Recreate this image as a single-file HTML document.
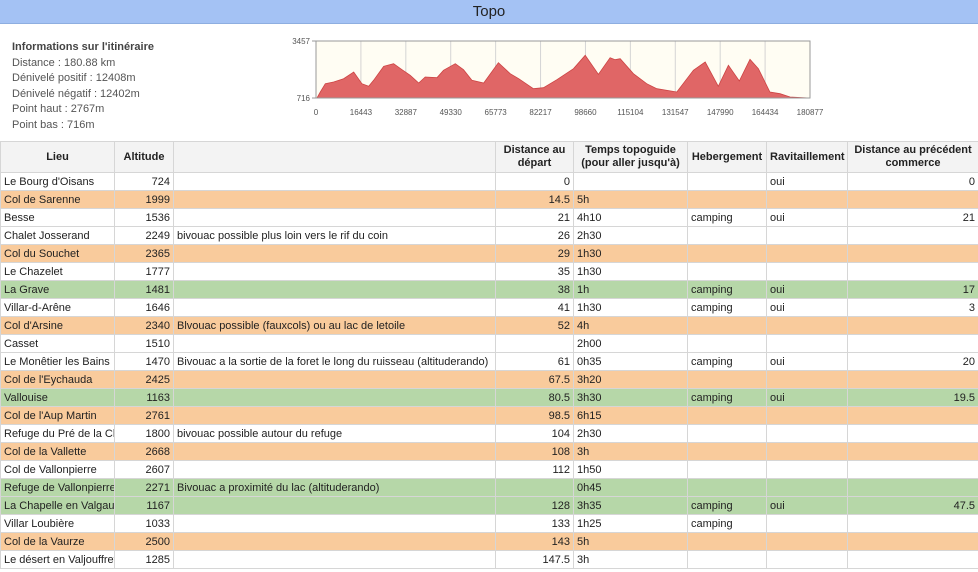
<!DOCTYPE html>
<html><head><meta charset="utf-8"><style>
*{margin:0;padding:0;box-sizing:border-box}
body{width:978px;height:572px;overflow:hidden;background:#fff;font-family:"Liberation Sans",Arial,sans-serif;position:relative}
#title{position:absolute;left:0;top:0;width:978px;height:24px;background:#a4c2f4;border-bottom:1px solid #8eaee0;text-align:center;font-size:15px;line-height:24px;color:#222}
#info{position:absolute;left:12px;top:40px;font-size:11px;color:#555;line-height:15.6px}
#info b{color:#444}
#chart{position:absolute;left:0;top:24px}
table{position:absolute;left:0;top:141px;border-collapse:collapse;table-layout:fixed;width:978px;font-size:11px;color:#222}
td,th{border:1px solid #d6d6d6;height:18px;padding:0 3px;white-space:nowrap;overflow:hidden}
th{height:31px;background:#f3f3f3;font-weight:bold;text-align:center;line-height:13px;white-space:normal}
.r{text-align:right}
.o td{background:#f9cb9c}
.g td{background:#b6d7a8}
</style></head><body>
<div id="title">Topo</div>
<div id="info">
<b>Informations sur l'itinéraire</b><br>
Distance : 180.88 km<br>Dénivelé positif : 12408m<br>Dénivelé négatif : 12402m<br>Point haut : 2767m<br>Point bas : 716m
</div>
<svg id="chart" width="978" height="117"></svg>
<table>
<colgroup><col style="width:114px"><col style="width:59px"><col style="width:322px"><col style="width:78px"><col style="width:114px"><col style="width:79px"><col style="width:81px"><col style="width:131px"></colgroup>
<thead><tr><th>Lieu</th><th>Altitude</th><th></th><th>Distance au départ</th><th>Temps topoguide (pour aller jusqu'à)</th><th>Hebergement</th><th>Ravitaillement</th><th>Distance au précédent commerce</th></tr></thead>
<tbody>
<tr><td>Le Bourg d'Oisans</td><td class="r">724</td><td></td><td class="r">0</td><td></td><td></td><td>oui</td><td class="r">0</td></tr>
<tr class="o"><td>Col de Sarenne</td><td class="r">1999</td><td></td><td class="r">14.5</td><td>5h</td><td></td><td></td><td></td></tr>
<tr><td>Besse</td><td class="r">1536</td><td></td><td class="r">21</td><td>4h10</td><td>camping</td><td>oui</td><td class="r">21</td></tr>
<tr><td>Chalet Josserand</td><td class="r">2249</td><td>bivouac possible plus loin vers le rif du coin</td><td class="r">26</td><td>2h30</td><td></td><td></td><td></td></tr>
<tr class="o"><td>Col du Souchet</td><td class="r">2365</td><td></td><td class="r">29</td><td>1h30</td><td></td><td></td><td></td></tr>
<tr><td>Le Chazelet</td><td class="r">1777</td><td></td><td class="r">35</td><td>1h30</td><td></td><td></td><td></td></tr>
<tr class="g"><td>La Grave</td><td class="r">1481</td><td></td><td class="r">38</td><td>1h</td><td>camping</td><td>oui</td><td class="r">17</td></tr>
<tr><td>Villar-d-Arêne</td><td class="r">1646</td><td></td><td class="r">41</td><td>1h30</td><td>camping</td><td>oui</td><td class="r">3</td></tr>
<tr class="o"><td>Col d'Arsine</td><td class="r">2340</td><td>Blvouac possible (fauxcols) ou au lac de letoile</td><td class="r">52</td><td>4h</td><td></td><td></td><td></td></tr>
<tr><td>Casset</td><td class="r">1510</td><td></td><td></td><td>2h00</td><td></td><td></td><td></td></tr>
<tr><td>Le Monêtier les Bains</td><td class="r">1470</td><td>Bivouac a la sortie de la foret le long du ruisseau (altituderando)</td><td class="r">61</td><td>0h35</td><td>camping</td><td>oui</td><td class="r">20</td></tr>
<tr class="o"><td>Col de l'Eychauda</td><td class="r">2425</td><td></td><td class="r">67.5</td><td>3h20</td><td></td><td></td><td></td></tr>
<tr class="g"><td>Vallouise</td><td class="r">1163</td><td></td><td class="r">80.5</td><td>3h30</td><td>camping</td><td>oui</td><td class="r">19.5</td></tr>
<tr class="o"><td>Col de l'Aup Martin</td><td class="r">2761</td><td></td><td class="r">98.5</td><td>6h15</td><td></td><td></td><td></td></tr>
<tr><td>Refuge du Pré de la Chaumette</td><td class="r">1800</td><td>bivouac possible autour du refuge</td><td class="r">104</td><td>2h30</td><td></td><td></td><td></td></tr>
<tr class="o"><td>Col de la Vallette</td><td class="r">2668</td><td></td><td class="r">108</td><td>3h</td><td></td><td></td><td></td></tr>
<tr><td>Col de Vallonpierre</td><td class="r">2607</td><td></td><td class="r">112</td><td>1h50</td><td></td><td></td><td></td></tr>
<tr class="g"><td>Refuge de Vallonpierre</td><td class="r">2271</td><td>Bivouac a proximité du lac (altituderando)</td><td></td><td>0h45</td><td></td><td></td><td></td></tr>
<tr class="g"><td>La Chapelle en Valgaudemar</td><td class="r">1167</td><td></td><td class="r">128</td><td>3h35</td><td>camping</td><td>oui</td><td class="r">47.5</td></tr>
<tr><td>Villar Loubière</td><td class="r">1033</td><td></td><td class="r">133</td><td>1h25</td><td>camping</td><td></td><td></td></tr>
<tr class="o"><td>Col de la Vaurze</td><td class="r">2500</td><td></td><td class="r">143</td><td>5h</td><td></td><td></td><td></td></tr>
<tr><td>Le désert en Valjouffrey</td><td class="r">1285</td><td></td><td class="r">147.5</td><td>3h</td><td></td><td></td><td></td></tr>
</tbody></table>
<script>
const distances=[0,370,1590,3400,6460,10100,13800,16800,19300,21100,24800,28400,31500,34500,37600,40000,44300,46700,51000,54000,57100,61400,66800,71100,74200,79600,83300,88200,94300,98550,103400,107700,109500,111400,116200,121100,124800,132100,138200,142500,147300,151000,155000,158900,162000,166200,169900,173600,180640];
const altitudes=[716,716,1004,1405,1485,1646,1966,1405,1277,1565,2239,2367,2078,1806,1437,1726,1694,2046,2367,2078,1565,1437,2415,1886,1646,1165,1213,1598,2126,2767,1854,2655,2559,2607,1886,1405,1165,1004,2046,2447,1277,2287,1533,2575,2126,1004,925,765,716];
const xTicks=[0,16443,32887,49330,65773,82217,98660,115104,131547,147990,164434,180877];
const yTicks=[716,3457];
const X0=316,X1=810,Y0=17,Y1=74,XMAX=180877,YMIN=716,YMAX=3457;
const sx=d=>X0+(d/XMAX)*(X1-X0);
const sy=a=>Y1-(a-YMIN)/(YMAX-YMIN)*(Y1-Y0);
const svg=document.getElementById('chart');
const NS='http://www.w3.org/2000/svg';
function mk(t,at){const e=document.createElementNS(NS,t);for(const k in at)e.setAttribute(k,at[k]);svg.appendChild(e);return e;}
const bg=mk('rect',{x:X0,y:Y0,width:X1-X0,height:Y1-Y0,fill:'#fffdf3'});


xTicks.forEach(t=>{
 const g=mk('line',{x1:sx(t),x2:sx(t),y1:Y0,y2:Y1,stroke:'#d4d4d4','stroke-width':1});
 
 
 const l=mk('text',{x:sx(t),y:Y1+17,'font-size':8,fill:'#555','text-anchor':'middle','font-family':'Liberation Sans, sans-serif'});
 l.textContent=t;
 
 
});
yTicks.forEach(t=>{
 const l=mk('text',{x:X0-6,y:sy(t)+3,'font-size':8,fill:'#555','text-anchor':'end','font-family':'Liberation Sans, sans-serif'});
 l.textContent=t;
 
 
 const k=mk('line',{x1:X0-4,x2:X0,y1:sy(t),y2:sy(t),stroke:'#999'});
 
 
});
let d='M'+sx(distances[0])+','+Y1;
distances.forEach((v,i)=>{d+=' L'+sx(v).toFixed(1)+','+sy(altitudes[i]).toFixed(1);});
d+=' L'+sx(distances[distances.length-1])+','+Y1+' Z';
const area=mk('path',{d:d,fill:'#e06666',stroke:'#cc4444','stroke-width':0.8});


const fr=mk('rect',{x:X0,y:Y0,width:X1-X0,height:Y1-Y0,fill:'none',stroke:'#999','stroke-width':1});


</script>
</body></html>
